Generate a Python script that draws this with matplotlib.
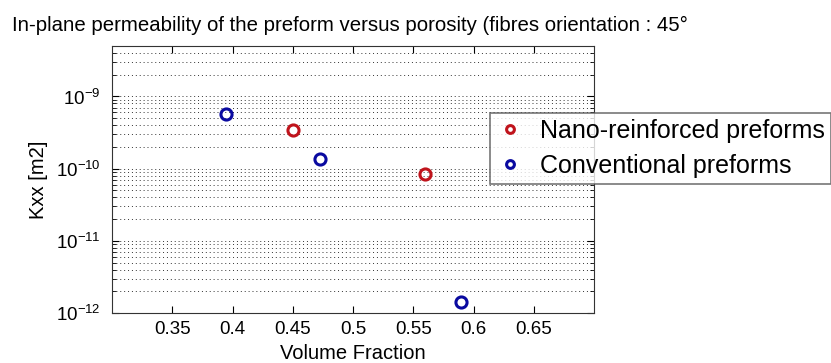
import matplotlib
matplotlib.use('Agg')
import matplotlib.pyplot as plt
from matplotlib.ticker import LogLocator, NullFormatter

plt.rcParams['font.family'] = ['Liberation Sans', 'DejaVu Sans']

# data
nano_vf = [0.45, 0.56]
nano_k = [3.4e-10, 8.4e-11]
conv_vf = [0.395, 0.473, 0.59]
conv_k = [5.8e-10, 1.35e-10, 1.44e-12]
xticks = [0.35, 0.4, 0.45, 0.5, 0.55, 0.6, 0.65]
xticklabels = ['0.35', '0.4', '0.45', '0.5', '0.55', '0.6', '0.65']

fig = plt.figure(figsize=(8.31, 3.63), dpi=100)
ax = fig.add_axes([112 / 831, 1 - 313 / 363, 482 / 831, 267 / 363])

ax.plot(nano_vf, nano_k, 'o', mfc='none', mec='#c0141c', mew=2.2, ms=8,
        label='Nano-reinforced preforms')
ax.plot(conv_vf, conv_k, 'o', mfc='none', mec='#0a0aa0', mew=2.2, ms=8,
        label='Conventional preforms')

ax.set_yscale('log')
ax.set_xlim(0.3, 0.7)
ax.set_ylim(1e-12, 5e-9)
ax.set_xticks(xticks)
ax.set_xticklabels(xticklabels)
ax.yaxis.set_major_locator(LogLocator(base=10, numticks=10))
ax.yaxis.set_minor_locator(LogLocator(base=10, subs=range(2, 10), numticks=20))
ax.yaxis.set_minor_formatter(NullFormatter())

ax.grid(True, which='both', axis='y', linestyle=(0, (1, 3)), color='#333333', lw=0.7)
ax.tick_params(direction='in', top=True, right=True, labelsize=13.5, length=5)
ax.tick_params(axis='x', pad=6)
ax.tick_params(axis='y', pad=8)
ax.tick_params(which='minor', direction='in', right=True, length=3)
for s in ax.spines.values():
    s.set_color('#333333')

ax.set_xlabel('Volume Fraction', fontsize=14.5)
ax.xaxis.set_label_coords(0.5, -0.115)
ax.set_ylabel('Kxx [m2]', fontsize=14.5, labelpad=6)

fig.text(12 / 831, 1 - 31 / 363, 'In-plane permeability of the preform versus porosity (fibres orientation : 45\u00b0',
         fontsize=14.7, va='baseline', ha='left')

leg = fig.legend(loc='upper left', bbox_to_anchor=(490 / 831, 1 - 113 / 363),
                 fontsize=18, frameon=True, fancybox=False, edgecolor='#555555',
                 handletextpad=0.67, borderpad=0.23, labelspacing=0.45,
                 handlelength=1.1, borderaxespad=0, markerscale=0.7)
leg.get_frame().set_linewidth(1.2)

fig.savefig('out.png', dpi=100)
